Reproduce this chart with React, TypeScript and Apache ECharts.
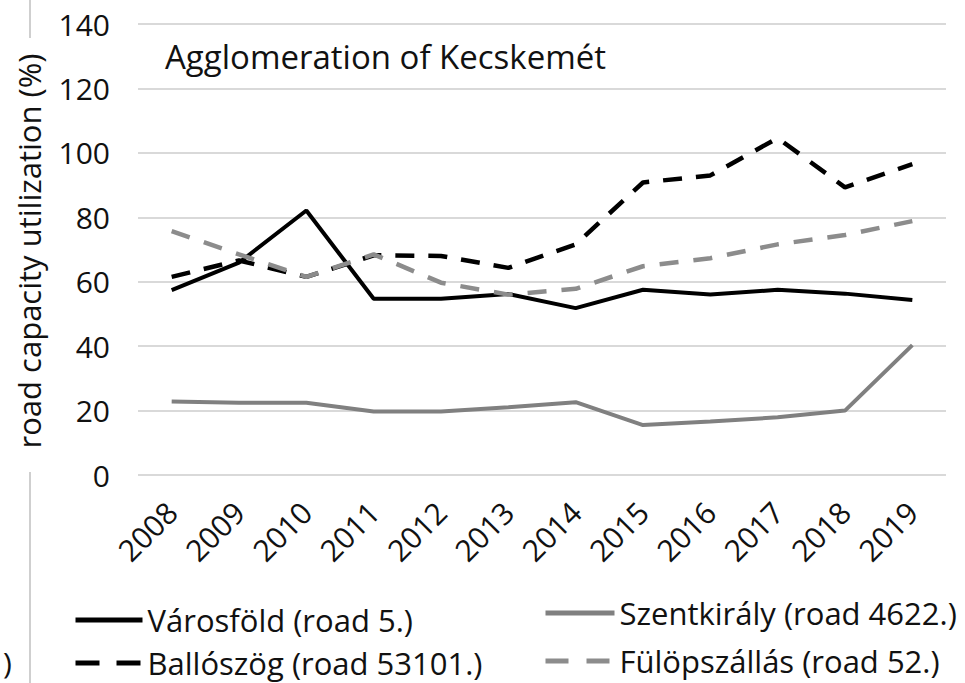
import React, { useEffect, useRef } from "react";
import * as echarts from "echarts";

const years = ["2008", "2009", "2010", "2011", "2012", "2013", "2014", "2015", "2016", "2017", "2018", "2019"];
const varosfold = [57.4, 65.9, 82.1, 54.7, 54.7, 56.2, 51.8, 57.5, 56.0, 57.5, 56.3, 54.3];
const szentkiraly = [22.8, 22.4, 22.4, 19.7, 19.7, 21.0, 22.6, 15.5, 16.6, 17.9, 20.0, 40.3];
const balloszog = [61.5, 66.6, 61.5, 68.2, 68.0, 64.3, 71.6, 90.8, 93.0, 104.6, 89.3, 96.5];
const fulopszallas = [75.7, 68.5, 61.5, 68.5, 59.7, 56.0, 57.8, 64.8, 67.3, 71.6, 74.5, 78.8];
const seriesNames = [
  "Városföld (road 5.)",
  "Szentkirály (road 4622.)",
  "Ballószög (road 53101.)",
  "Fülöpszállás (road 52.)",
];
const titleText = "Agglomeration of Kecskemét";
const yAxisTitle = "road capacity utilization (%)";

const FONT = "'Open Sans', 'Noto Sans', sans-serif";
const TXT = "#111111";

export default function App() {
  const ref = useRef<HTMLDivElement>(null);
  useEffect(() => {
    if (!ref.current) return;
    const chart = echarts.init(ref.current, null, { renderer: "svg" });
    const legendCommon = {
      padding: 0,
      itemHeight: 20,
      selectedMode: false,
      itemStyle: { color: "rgba(0,0,0,0)", opacity: 0, borderWidth: 0 },
      textStyle: { fontFamily: FONT, fontSize: 31, color: TXT, lineHeight: 32 },
    };
    chart.setOption({
      animation: false,
      backgroundColor: "#ffffff",
      grid: { left: 138, right: 19, top: 24, bottom: 208, containLabel: false },
      xAxis: {
        type: "category",
        data: years,
        boundaryGap: true,
        axisLine: { show: false },
        axisTick: { show: false },
        axisLabel: {
          rotate: 45,
          margin: 32,
          fontFamily: FONT,
          fontSize: 30,
          color: TXT,
          interval: 0,
        },
      },
      yAxis: {
        type: "value",
        min: 0,
        max: 140,
        interval: 20,
        axisLine: { show: false },
        axisTick: { show: false },
        splitLine: { lineStyle: { color: "#d9d9d9", width: 2 } },
        axisLabel: { margin: 28, fontFamily: FONT, fontSize: 30, color: TXT },
      },
      legend: [
        { ...legendCommon, data: [seriesNames[0]], left: 73, top: 604, itemWidth: 67, lineStyle: { width: 5 } },
        { ...legendCommon, data: [seriesNames[1]], left: 543, top: 597, itemWidth: 69, lineStyle: { width: 5 } },
        { ...legendCommon, data: [seriesNames[2]], left: 73, top: 647, itemWidth: 67, lineStyle: { width: 5, type: [24, 17] } },
        { ...legendCommon, data: [seriesNames[3]], left: 543, top: 645, itemWidth: 69, lineStyle: { width: 5, type: [23, 18] } },
      ],
      graphic: [
        { type: "line", shape: { x1: 30, y1: 0, x2: 30, y2: 38 }, style: { stroke: "#cfcfcf", lineWidth: 2 } },
        { type: "line", shape: { x1: 30, y1: 472, x2: 30, y2: 683 }, style: { stroke: "#cfcfcf", lineWidth: 2 } },
        { type: "text", x: 3, y: 662, style: { text: ")", font: `30px ${FONT}`, fill: TXT, verticalAlign: "middle" } },
        {
          type: "text",
          x: 29,
          y: 251,
          rotation: Math.PI / 2,
          style: { text: yAxisTitle, font: `31px ${FONT}`, fill: TXT, align: "center", verticalAlign: "middle" },
        },
        { type: "text", x: 165, y: 56, style: { text: titleText, font: `33px ${FONT}`, fill: TXT, verticalAlign: "middle" } },
      ],
      series: [
        {
          name: seriesNames[0],
          type: "line",
          data: varosfold,
          symbol: "none",
          lineStyle: { color: "#000000", width: 4 },
          itemStyle: { color: "#000000" },
        },
        {
          name: seriesNames[1],
          type: "line",
          data: szentkiraly,
          symbol: "none",
          lineStyle: { color: "#808080", width: 4 },
          itemStyle: { color: "#808080" },
        },
        {
          name: seriesNames[2],
          type: "line",
          data: balloszog,
          symbol: "none",
          lineStyle: { color: "#000000", width: 4.5, type: [19, 14] },
          itemStyle: { color: "#000000" },
        },
        {
          name: seriesNames[3],
          type: "line",
          data: fulopszallas,
          symbol: "none",
          lineStyle: { color: "#8c8c8c", width: 4.5, type: [19, 15] },
          itemStyle: { color: "#8c8c8c" },
        },
      ],
    });
    return () => chart.dispose();
  }, []);
  return <div ref={ref} style={{ width: 965, height: 683, position: "absolute", left: 0, top: 0 }} />;
}
